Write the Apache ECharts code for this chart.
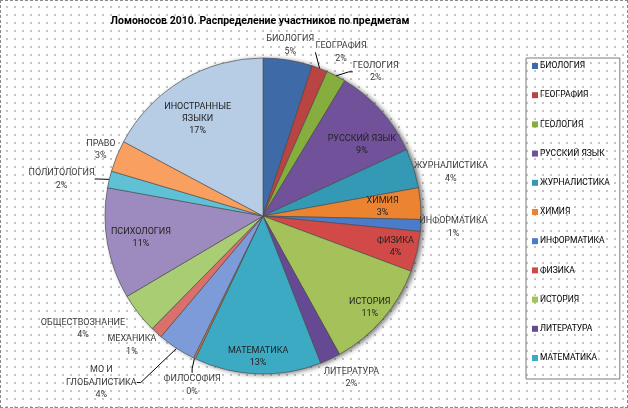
<!DOCTYPE html>
<html>
<head>
<meta charset="utf-8">
<script src="https://cdn.jsdelivr.net/npm/echarts@6/dist/echarts.min.js"></script>
<style>
  html, body { margin: 0; padding: 0; background: #fff; }
  #chart {
    width: 628px; height: 408px; box-sizing: border-box;
    border: 1px dashed #8a8a8a;
    background-color: #fff;
    background-image: radial-gradient(circle, #c4c4c4 0.9px, transparent 1px);
    background-size: 8px 8px;
    background-position: 2px 2px;
  }
</style>
</head>
<body>
<div id="chart"></div>
<script>
// Categories, clockwise from 12 o'clock
const categories = [
  'БИОЛОГИЯ', 'ГЕОГРАФИЯ', 'ГЕОЛОГИЯ', 'РУССКИЙ ЯЗЫК', 'ЖУРНАЛИСТИКА', 'ХИМИЯ',
  'ИНФОРМАТИКА', 'ФИЗИКА', 'ИСТОРИЯ', 'ЛИТЕРАТУРА', 'МАТЕМАТИКА', 'ФИЛОСОФИЯ',
  'МО И ГЛОБАЛИСТИКА', 'МЕХАНИКА', 'ОБЩЕСТВОЗНАНИЕ', 'ПСИХОЛОГИЯ', 'ПОЛИТОЛОГИЯ',
  'ПРАВО', 'ИНОСТРАННЫЕ ЯЗЫКИ'
];
// Share of participants (estimated, %)
const shares = [
  5.0, 1.6, 2.0, 9.4, 4.0, 3.2,
  1.2, 4.1, 11.2, 2.1, 12.9, 0.2,
  3.9, 1.2, 4.1, 11.3, 1.7,
  3.2, 17.1
];
// Legend shows only the first entries (as in the original)
const legendNames = categories.slice(0, 11);
// Labels drawn inside their slices, with their distance from the centre (px)
const insideLabels = { 'РУССКИЙ ЯЗЫК': 122, 'ХИМИЯ': 120, 'ФИЗИКА': 136, 'ИСТОРИЯ': 141,
  'МАТЕМАТИКА': 141, 'ПСИХОЛОГИЯ': 124, 'ИНОСТРАННЫЕ ЯЗЫКИ': 117 };
// Outside labels that have a leader line
const leaderLabels = ['ГЕОГРАФИЯ', 'ГЕОЛОГИЯ', 'ФИЛОСОФИЯ', 'МО И ГЛОБАЛИСТИКА', 'ПОЛИТОЛОГИЯ'];
// Names wrapped onto two lines
const wrapNames = { 'ИНОСТРАННЫЕ ЯЗЫКИ': 'ИНОСТРАННЫЕ\nЯЗЫКИ', 'МО И ГЛОБАЛИСТИКА': 'МО И\nГЛОБАЛИСТИКА' };
// Label placement tweaks (gap from rim in px, angular shift in degrees)
const labelGap = { 'БИОЛОГИЯ': -1, 'ГЕОГРАФИЯ': 1, 'ГЕОЛОГИЯ': 1, 'ЖУРНАЛИСТИКА': -4, 'ИНФОРМАТИКА': -2,
  'ЛИТЕРАТУРА': 2, 'ФИЛОСОФИЯ': 3, 'МО И ГЛОБАЛИСТИКА': 36, 'МЕХАНИКА': 0, 'ОБЩЕСТВОЗНАНИЕ': 12,
  'ПОЛИТОЛОГИЯ': 12, 'ПРАВО': -1 };
const labelShift = { 'ГЕОГРАФИЯ': 4.5, 'ГЕОЛОГИЯ': 10.5, 'ЖУРНАЛИСТИКА': 4.5, 'ЛИТЕРАТУРА': -3.5,
  'ФИЛОСОФИЯ': -3, 'МО И ГЛОБАЛИСТИКА': 11, 'МЕХАНИКА': 3, 'ОБЩЕСТВОЗНАНИЕ': 6, 'ПОЛИТОЛОГИЯ': -3,
  'РУССКИЙ ЯЗЫК': 6, 'ИНОСТРАННЫЕ ЯЗЫКИ': -3 };

const colors = [
  '#3E6AA8', '#B94442', '#86AE3E', '#71529A', '#3499B5', '#EC8330',
  '#4A7CC9', '#D14A47', '#A5C25A', '#654A93', '#3DAAC4', '#D9782E',
  '#7C9BD8', '#D9706C', '#A9CD72', '#9D8BBF', '#5FC0D6', '#F9A060', '#B7CDE6'
];

const FONT = "Roboto, 'Liberation Sans', sans-serif";
const total = shares.reduce((a, b) => a + b, 0);
const fmt = p => (wrapNames[p.name] || p.name) + '\n' + Math.round(p.value / total * 100) + '%';

// mid angle of every slice (degrees clockwise from 12 o'clock), derived from the data
const midAngles = [];
shares.reduce((acc, v) => { midAngles.push((acc + v / 2) / total * 360); return acc + v; }, 0);

const center = [262, 215];
const R = 158;

const mainData = categories.map((n, i) => ({
  name: n, value: shares[i],
  label: { show: !(n in insideLabels) },
  labelLine: { show: leaderLabels.includes(n) }
}));
const labelData = categories.map((n, i) => ({
  name: n, value: shares[i],
  label: { show: n in insideLabels }
}));

function placeLabel(params) {
  const name = categories[params.dataIndex];
  const inside = params.seriesIndex === 2;
  const a = (midAngles[params.dataIndex] + (labelShift[name] || 0)) * Math.PI / 180;
  const rx = Math.sin(a), ry = -Math.cos(a);
  const w = params.labelRect.width, h = params.labelRect.height;
  const d = inside ? insideLabels[name]
    : R + (labelGap[name] || 0) + Math.abs(rx) * w / 2 + Math.abs(ry) * h / 2;
  return { x: center[0] + rx * d, y: center[1] + ry * d, align: 'center', verticalAlign: 'middle' };
}

const chart = echarts.init(document.getElementById('chart'), null, { renderer: 'canvas' });
chart.setOption({
  backgroundColor: 'transparent',
  animation: false,
  color: colors,
  title: {
    text: 'Ломоносов 2010. Распределение участников по предметам',
    left: 254, top: 10, textAlign: 'center',
    textStyle: { fontFamily: FONT, fontSize: 10.5, fontWeight: 'bold', color: '#000' }
  },
  legend: {
    data: legendNames,
    orient: 'vertical',
    left: 525, top: 57,
    padding: [3, 10, 16, 6],
    itemWidth: 6, itemHeight: 6, itemGap: 19.2,
    icon: 'rect',
    borderColor: '#7a7a7a', borderWidth: 1,
    textStyle: { fontFamily: FONT, fontSize: 8.5, color: '#000', lineHeight: 10, padding: [0, 0, 0, -3] },
    itemStyle: { borderWidth: 0 }
  },
  series: [
    {
      type: 'pie', silent: true, center: center, radius: [0, R],
      data: [{ value: 1, name: '' }],
      itemStyle: { color: '#888', shadowBlur: 5, shadowOffsetX: 3, shadowOffsetY: 1, shadowColor: 'rgba(0,0,0,0.55)' },
      label: { show: false }, labelLine: { show: false }, z: 1
    },
    {
      type: 'pie', center: center, radius: [0, R],
      startAngle: 90, clockwise: true,
      avoidLabelOverlap: false,
      itemStyle: { borderColor: '#4a4a4a', borderWidth: 0.6 },
      label: {
        position: 'outside', formatter: fmt,
        fontFamily: FONT, fontSize: 9, color: '#3a3a3a', lineHeight: 12.5
      },
      labelLine: { length: 4, length2: 4, lineStyle: { color: '#000', width: 1 } },
      labelLayout: placeLabel,
      data: mainData, z: 2
    },
    {
      type: 'pie', silent: true, center: center, radius: [0, 260],
      startAngle: 90, clockwise: true,
      avoidLabelOverlap: false,
      itemStyle: { color: 'transparent', borderWidth: 0 },
      label: {
        position: 'inside', formatter: fmt,
        fontFamily: FONT, fontSize: 9, color: '#222', lineHeight: 12
      },
      labelLine: { show: false },
      labelLayout: placeLabel,
      data: labelData, z: 3
    }
  ]
});
</script>
</body>
</html>
